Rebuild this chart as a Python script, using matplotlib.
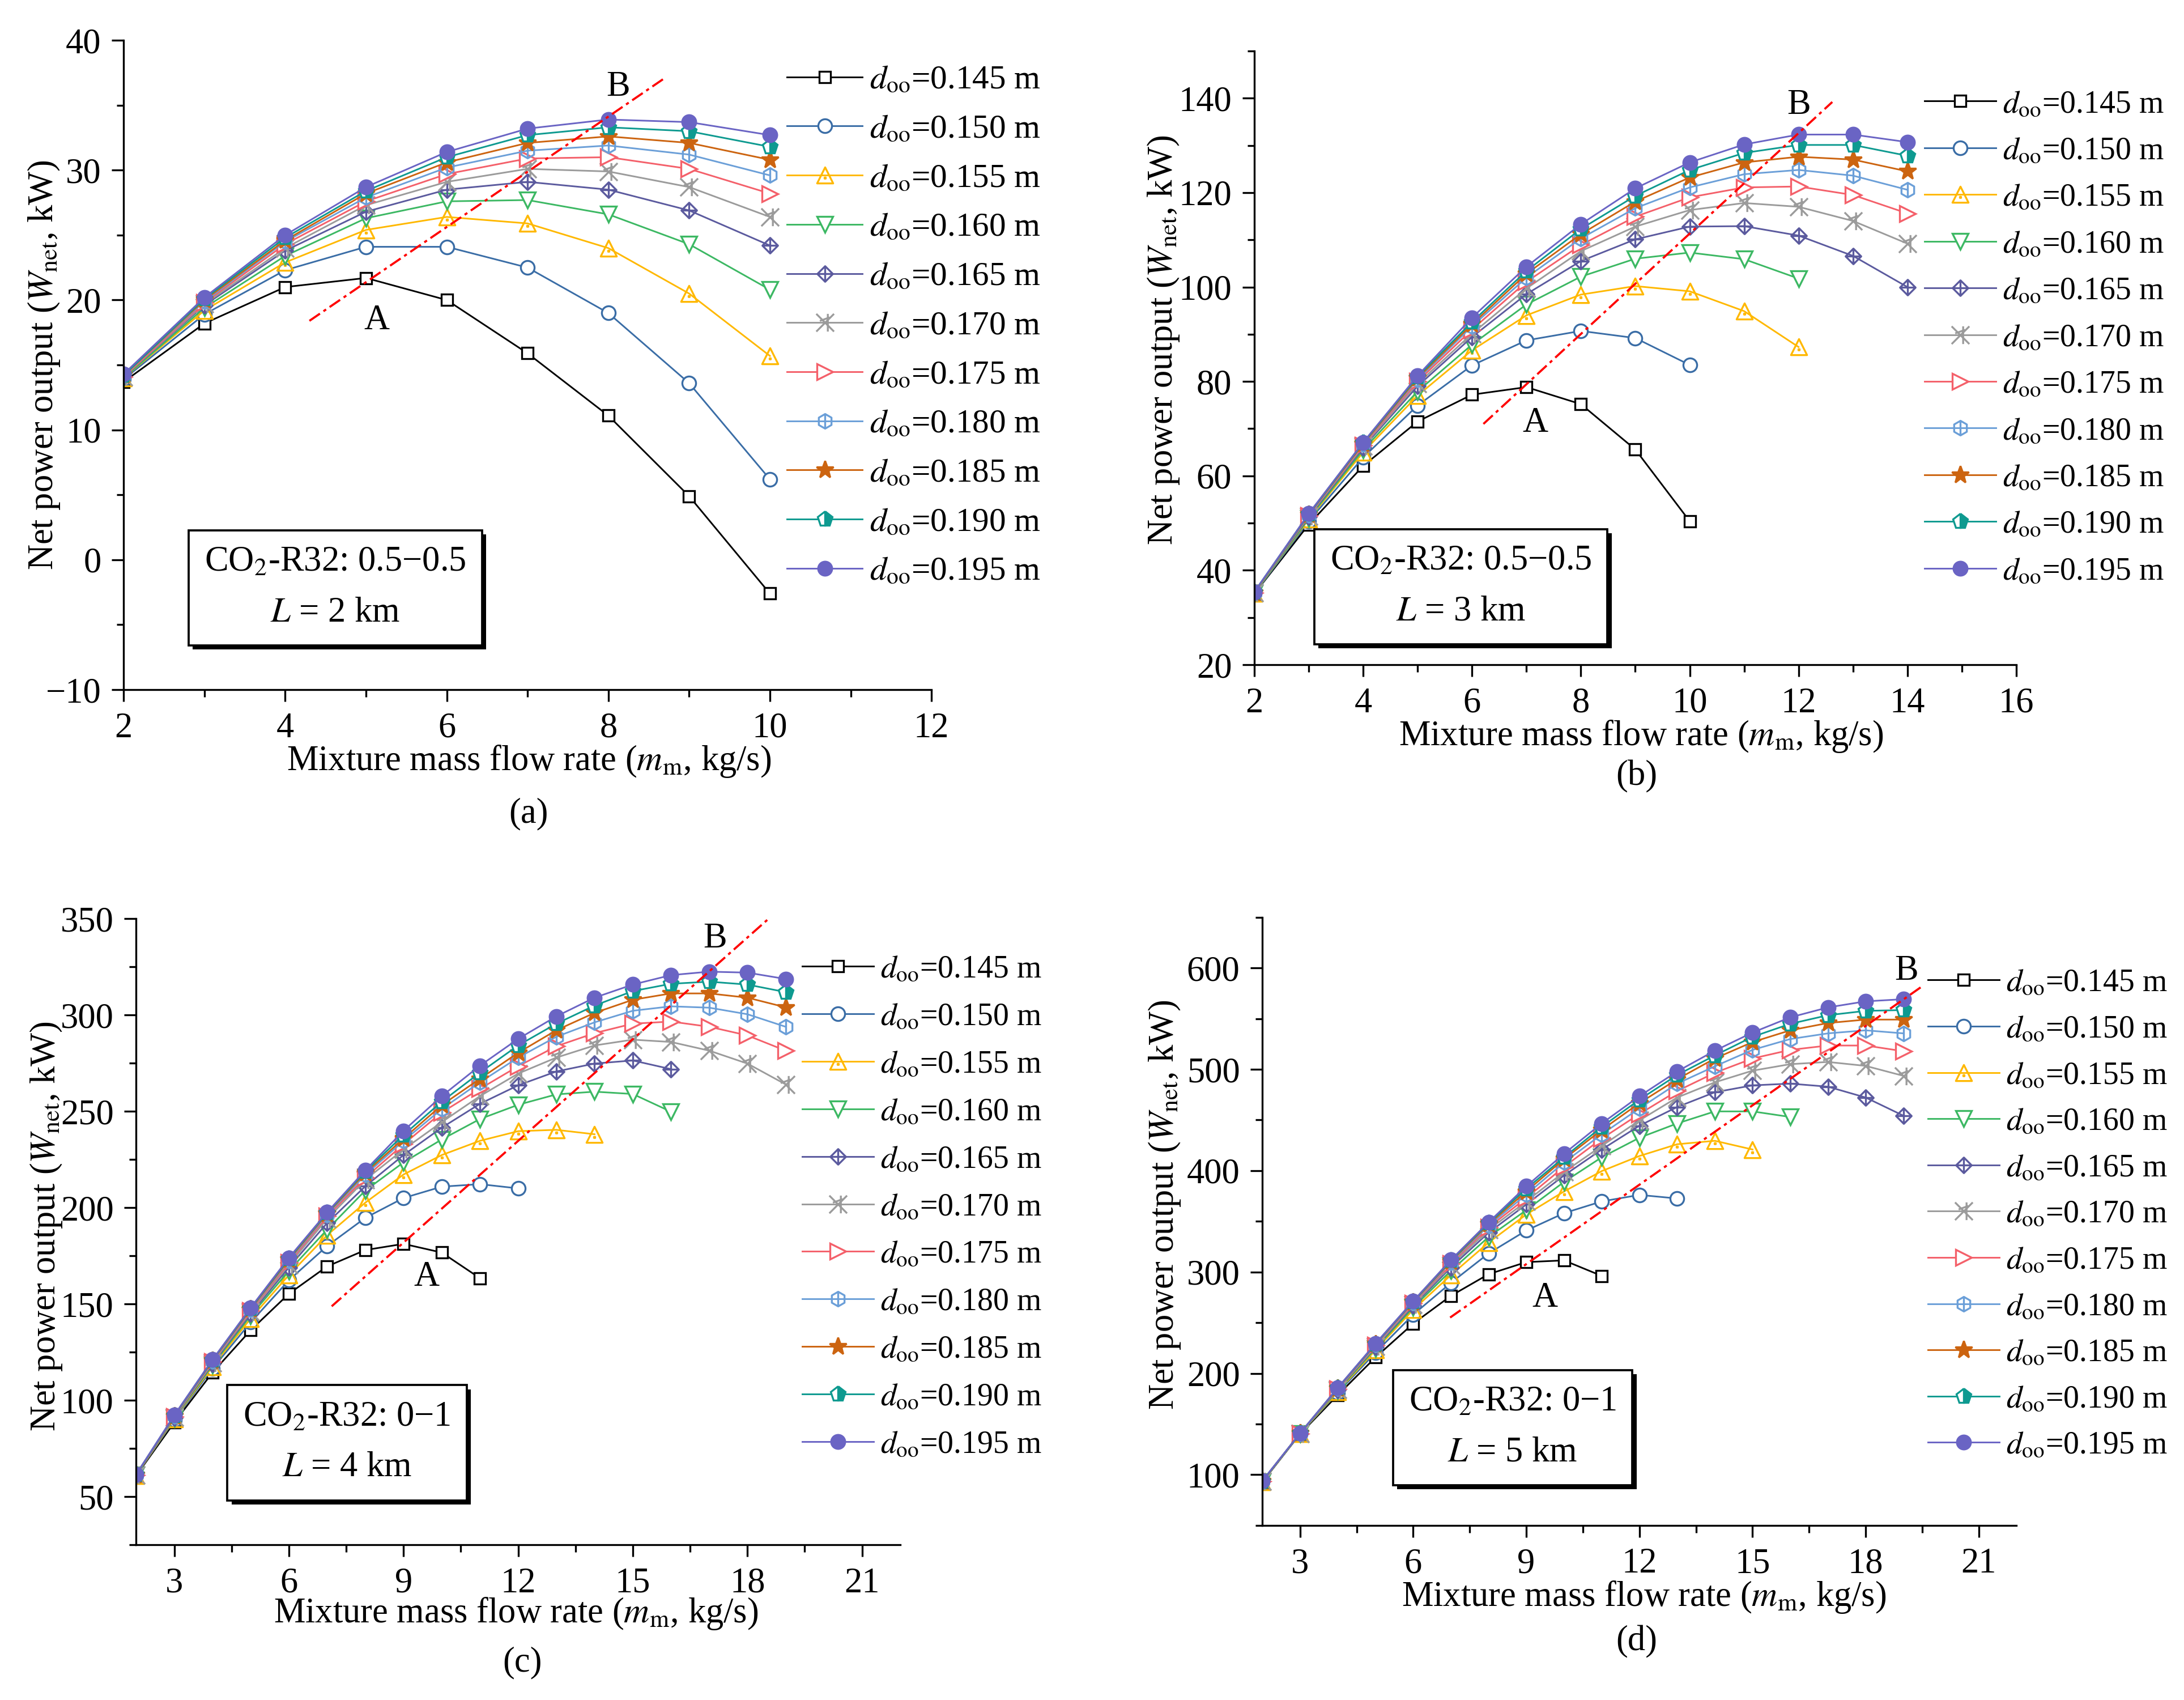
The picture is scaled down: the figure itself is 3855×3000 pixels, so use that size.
import matplotlib
matplotlib.use('Agg')
import matplotlib.pyplot as plt
import matplotlib.ticker as ticker
import matplotlib.patheffects as pe
from matplotlib.path import Path

# ---------------------------------------------------------------- data
diameters = ['0.145', '0.150', '0.155', '0.160', '0.165', '0.170',
             '0.175', '0.180', '0.185', '0.190', '0.195']

# every series starts at m_m = 2 kg/s, step 1 kg/s
flow_start = 2

# (a) CO2-R32 0.5-0.5, L = 2 km
power_a = [
    [13.7, 18.2, 21.0, 21.7, 20.0, 15.9, 11.1, 4.9, -2.6],
    [13.9, 18.9, 22.3, 24.1, 24.1, 22.5, 19.0, 13.6, 6.2],
    [14.0, 19.2, 22.9, 25.4, 26.4, 25.9, 24.0, 20.5, 15.7],
    [14.0, 19.4, 23.4, 26.3, 27.6, 27.7, 26.6, 24.3, 20.8],
    [14.1, 19.6, 23.8, 26.8, 28.5, 29.1, 28.5, 26.9, 24.2],
    [14.1, 19.7, 24.0, 27.3, 29.1, 30.1, 29.9, 28.7, 26.4],
    [14.1, 19.8, 24.3, 27.6, 29.7, 30.9, 31.0, 30.1, 28.2],
    [14.2, 19.9, 24.5, 27.9, 30.2, 31.5, 31.9, 31.2, 29.6],
    [14.2, 20.0, 24.6, 28.2, 30.6, 32.1, 32.6, 32.1, 30.8],
    [14.2, 20.1, 24.8, 28.4, 31.0, 32.7, 33.3, 33.0, 31.8],
    [14.3, 20.2, 25.0, 28.7, 31.4, 33.2, 33.9, 33.7, 32.7],
]

# (b) CO2-R32 0.5-0.5, L = 3 km
power_b = [
    [35.0, 49.7, 62.1, 71.5, 77.2, 78.8, 75.2, 65.6, 50.4],
    [35.0, 50.4, 63.9, 74.9, 83.4, 88.7, 90.7, 89.2, 83.5],
    [35.1, 50.8, 65.0, 77.0, 86.6, 94.0, 98.4, 100.2, 99.1, 94.9, 87.3],
    [35.1, 51.0, 65.5, 77.9, 87.8, 96.3, 102.2, 106.0, 107.3, 105.9, 101.8],
    [35.2, 51.3, 66.0, 79.0, 89.4, 98.5, 105.5, 110.1, 112.8, 112.9, 110.9, 106.6, 100.0],
    [35.2, 51.5, 66.3, 79.5, 90.1, 99.7, 107.6, 112.8, 116.3, 117.8, 117.0, 114.0, 109.2],
    [35.3, 51.6, 66.5, 80.0, 91.0, 101.1, 108.9, 114.9, 119.0, 121.1, 121.3, 119.5, 115.6],
    [35.3, 51.7, 66.7, 80.4, 91.7, 102.0, 110.3, 116.7, 121.1, 123.9, 124.8, 123.6, 120.6],
    [35.3, 51.8, 66.8, 80.7, 92.1, 102.8, 111.2, 118.1, 123.2, 126.4, 127.6, 127.0, 124.5],
    [35.4, 51.9, 67.0, 81.0, 92.6, 103.4, 112.3, 119.3, 124.8, 128.4, 130.1, 130.1, 127.8],
    [35.4, 52.0, 67.1, 81.2, 93.5, 104.3, 113.3, 120.9, 126.4, 130.2, 132.3, 132.3, 130.7],
]

# (c) CO2-R32 0-1, L = 4 km
power_c = [
    [60.8, 88.5, 114.4, 136.4, 155.3, 169.5, 178.0, 181.2, 176.7, 163.4],
    [61.0, 89.8, 116.5, 140.5, 162.3, 180.1, 194.7, 205.0, 210.9, 212.2, 210.0],
    [61.0, 90.3, 117.5, 142.5, 165.0, 185.7, 202.6, 217.2, 227.3, 234.7, 239.7, 240.4, 238.1],
    [61.1, 90.7, 118.3, 144.0, 167.2, 188.6, 208.9, 223.5, 235.4, 246.0, 253.4, 258.8, 260.2,
     259.0, 249.8],
    [61.1, 91.0, 119.0, 145.0, 169.0, 192.0, 211.1, 227.3, 241.5, 253.9, 263.5, 270.7, 274.8,
     276.4, 271.9],
    [61.2, 91.3, 119.5, 145.8, 170.3, 194.2, 214.5, 230.2, 244.4, 257.9, 269.6, 277.9, 284.2,
     287.2, 286.0, 281.5, 274.8, 264.0],
    [61.2, 91.5, 120.0, 146.4, 171.4, 195.5, 215.6, 232.9, 249.4, 261.7, 273.4, 283.8, 290.6,
     295.5, 296.6, 293.9, 289.4, 281.5],
    [61.3, 91.7, 120.3, 147.0, 172.3, 196.3, 217.0, 234.7, 251.2, 265.1, 277.9, 288.7, 296.2,
     302.2, 304.5, 303.8, 300.4, 293.9],
    [61.3, 91.9, 120.6, 147.4, 173.0, 196.9, 218.0, 235.9, 253.2, 266.9, 280.4, 292.1, 301.1,
     307.9, 311.2, 311.2, 309.0, 304.0],
    [61.4, 92.1, 120.9, 147.8, 173.6, 197.3, 218.8, 237.7, 255.0, 270.1, 284.2, 295.5, 304.9,
     312.4, 316.2, 317.3, 315.8, 311.9],
    [61.5, 92.3, 121.1, 148.1, 174.0, 197.6, 219.4, 239.9, 257.9, 273.7, 287.6, 299.3, 309.0,
     315.8, 320.7, 322.5, 322.0, 318.7],
]

# (d) CO2-R32 0-1, L = 5 km
power_d = [
    [92.7, 140.2, 178.6, 215.8, 249.1, 276.5, 297.9, 309.8, 311.5, 296.2],
    [93.0, 140.4, 181.0, 220.5, 258.0, 289.3, 318.4, 341.0, 358.1, 369.7, 376.1, 372.6],
    [93.1, 140.5, 182.0, 223.0, 262.8, 297.0, 329.1, 356.8, 379.5, 399.6, 414.5, 426.1, 429.5,
     420.9],
    [93.2, 140.6, 183.0, 224.5, 265.0, 301.3, 334.6, 361.1, 388.9, 413.2, 432.5, 446.6, 458.5,
     458.5, 453.0],
    [93.3, 140.7, 183.8, 225.8, 266.8, 304.5, 338.9, 366.7, 395.3, 420.9, 444.4, 462.8, 477.4,
     484.2, 485.9, 482.9, 472.2, 454.3],
    [93.4, 140.7, 184.3, 226.7, 268.0, 306.5, 341.7, 369.7, 398.7, 424.4, 449.6, 472.2, 487.2,
     498.7, 505.1, 507.3, 503.4, 493.6],
    [93.5, 140.8, 184.8, 227.5, 269.0, 308.3, 344.0, 373.1, 403.8, 431.6, 456.0, 478.6, 496.6,
     510.7, 519.2, 523.5, 523.5, 517.9],
    [93.6, 140.8, 185.1, 228.1, 269.9, 309.6, 345.8, 376.5, 408.1, 435.9, 461.5, 485.9, 503.0,
     519.2, 529.9, 535.5, 538.5, 535.5],
    [93.7, 140.9, 185.4, 228.7, 270.5, 310.6, 347.2, 379.5, 411.5, 440.2, 466.7, 490.2, 510.7,
     526.9, 538.5, 545.7, 549.1, 549.1],
    [93.8, 140.9, 185.7, 229.1, 271.0, 311.4, 348.3, 382.2, 413.2, 443.2, 470.1, 494.4, 513.7,
     532.1, 544.9, 553.4, 557.7, 558.5],
    [94.0, 141.0, 185.9, 229.5, 271.4, 312.0, 349.1, 384.6, 416.7, 446.6, 473.5, 497.9, 518.4,
     536.3, 551.3, 561.1, 567.1, 569.2],
]

# A-B trend lines (x pair, y pair) and label positions
trend_a = ([4.30, 8.70], [18.4, 37.1])
trend_b = ([6.21, 12.62], [71.0, 139.2])
trend_c = ([7.12, 18.63], [148.8, 351.3])
trend_d = ([6.98, 19.47], [255.1, 581.2])
label_a = [(5.13, 18.4), (8.12, 36.4)]
label_b = [(7.16, 71.1), (12.0, 138.5)]
label_c = [(9.6, 163.9), (17.15, 339.4)]
label_d = [(9.49, 274.4), (19.08, 597.0)]

mixtures = ['0.5\u22120.5', '0.5\u22120.5', '0\u22121', '0\u22121']
lengths = ['2', '3', '4', '5']

# ---------------------------------------------------------------- style
plt.rcParams.update({
    'font.family': 'serif',
    'font.serif': ['Liberation Serif', 'DejaVu Serif'],
    'mathtext.fontset': 'stix',
    'font.size': 15,
    'axes.linewidth': 0.8,
    'xtick.direction': 'out',
    'ytick.direction': 'out',
    'xtick.major.size': 5,
    'ytick.major.size': 5,
    'xtick.minor.size': 3,
    'ytick.minor.size': 3,
    'xtick.major.width': 0.8,
    'ytick.major.width': 0.8,
    'xtick.minor.width': 0.8,
    'ytick.minor.width': 0.8,
    'xtick.major.pad': 4.5,
    'ytick.major.pad': 4.5,
})


def _marker(segments, closed):
    verts, codes = [], []
    for seg, cl in zip(segments, closed):
        verts.extend(seg)
        codes.extend([Path.MOVETO] + [Path.LINETO] * (len(seg) - 1))
        if cl:
            verts.append(seg[0])
            codes.append(Path.CLOSEPOLY)
    return Path(verts, codes)


tri_dot = _marker([[(0, 1), (-1, -1), (1, -1)],
                   [(-0.07, -0.4), (0.07, -0.4), (0.07, -0.27), (-0.07, -0.27)]],
                  [True, True])
diamond_plus = _marker([[(0, 1), (1, 0), (0, -1), (-1, 0)],
                        [(0, 1), (0, -1)], [(-1, 0), (1, 0)]],
                       [True, False, False])
cross_bar = _marker([[(-1, -1), (1, 1)], [(-1, 1), (1, -1)],
                     [(0.3, -1), (0.3, 1)], [(-0.6, 0.2), (0.5, 0.6)]],
                    [False, False, False, False])
hexa = [(0.866 * (1 if i in (1, 2) else -1 if i in (4, 5) else 0),
         [1, 0.5, -0.5, -1, -0.5, 0.5][i]) for i in range(6)]
hex_bar = _marker([hexa, [(0, 1), (0, -1)]], [True, False])

colors = ['#000000', '#3A6DA6', '#FFB800', '#3CB863', '#5B5A9E', '#9B9B9B',
          '#F4606A', '#6B9FD8', '#CC6410', '#0E9A90', '#6A64C4']
markers = [
    dict(marker='s', ms=5.0, mfc='white'),
    dict(marker='o', ms=5.8, mfc='white'),
    dict(marker=tri_dot, ms=6.8, mfc='none'),
    dict(marker='v', ms=6.8, mfc='white'),
    dict(marker=diamond_plus, ms=6.6, mfc='none'),
    dict(marker=cross_bar, ms=7.5, mfc='none'),
    dict(marker='>', ms=6.8, mfc='white'),
    dict(marker=hex_bar, ms=6.2, mfc='none'),
    dict(marker='*', ms=7.5),
    dict(marker='p', ms=6.8, fillstyle='right', markerfacecoloralt='white'),
    dict(marker='o', ms=5.9),
]

panels = [
    dict(data=power_a, trend=trend_a, labels=label_a, xlim=(2, 12), ylim=(-10, 40),
         xmaj=2, xmin=1, ymaj=10, ymin=5,
         rect=[0.0566, 0.5943, 0.3699, 0.3820], tag='(a)', tag_xy=(933, 1436),
         leg=(1389, 115), leg_fs=14.2, leg_sp=0.546, box=(0.262, 0.157),
         xlab=(0.502, -0.110), ylab=(-0.099, 0.5)),
    dict(data=power_b, trend=trend_b, labels=label_b, xlim=(2, 16), ylim=(20, 150),
         xmaj=2, xmin=1, ymaj=20, ymin=10,
         rect=[0.5743, 0.6090, 0.3489, 0.3610], tag='(b)', tag_xy=(2889, 1370),
         leg=(3397, 158), leg_fs=13.4, leg_sp=0.545, box=(0.271, 0.127),
         xlab=(0.508, -0.117), ylab=(-0.119, 0.529)),
    dict(data=power_c, trend=trend_c, labels=label_c, xlim=(2, 22), ylim=(25, 350),
         xmaj=3, xmin=1.5, ymaj=50, ymin=25,
         rect=[0.0623, 0.0913, 0.3499, 0.3683], tag='(c)', tag_xy=(922, 2934),
         leg=(1416, 1685), leg_fs=13.4, leg_sp=0.57, box=(0.276, 0.163),
         xlab=(0.497, -0.110), ylab=(-0.118, 0.509)),
    dict(data=power_d, trend=trend_d, labels=label_d, xlim=(2, 22), ylim=(50, 650),
         xmaj=3, xmin=1.5, ymaj=100, ymin=50,
         rect=[0.5780, 0.1027, 0.3453, 0.3577], tag='(d)', tag_xy=(2889, 2897),
         leg=(3403, 1709), leg_fs=13.4, leg_sp=0.53, box=(0.332, 0.161),
         xlab=(0.506, -0.118), ylab=(-0.130, 0.527)),
]

W, H = 3855, 3000
fig = plt.figure(figsize=(W / 300, H / 300), dpi=300)

for k, p in enumerate(panels):
    ax = fig.add_axes(p['rect'])
    for i, series in enumerate(p['data']):
        xs = [flow_start + j for j in range(len(series))]
        ax.plot(xs, series, color=colors[i], lw=0.7, mec=colors[i], mew=0.8,
                label=r'$d_{\mathrm{oo}}$=' + diameters[i] + ' m', **markers[i])

    tx, ty = p['trend']
    ax.plot(tx, ty, color='red', lw=0.9, dashes=(6, 2, 1.5, 2))
    for name, (lx, ly) in zip('AB', p['labels']):
        ax.text(lx, ly, name, ha='center', va='center', fontsize=15, clip_on=False)

    ax.set_xlim(*p['xlim'])
    ax.set_ylim(*p['ylim'])
    ax.xaxis.set_major_locator(ticker.MultipleLocator(p['xmaj']))
    ax.xaxis.set_minor_locator(ticker.MultipleLocator(p['xmin']))
    ax.yaxis.set_major_locator(ticker.MultipleLocator(p['ymaj']))
    ax.yaxis.set_minor_locator(ticker.MultipleLocator(p['ymin']))
    ax.spines['top'].set_visible(False)
    ax.spines['right'].set_visible(False)
    ax.tick_params(labelsize=15)

    ax.set_xlabel(r'Mixture mass flow rate ($m_{\mathrm{m}}$, kg/s)', fontsize=15)
    ax.set_ylabel(r'Net power output ($W_{\mathrm{net}}$, kW)', fontsize=15)
    ax.xaxis.label.set_va('center')
    ax.yaxis.label.set_va('center')
    ax.xaxis.set_label_coords(*p['xlab'])
    ax.yaxis.set_label_coords(*p['ylab'])

    note = ax.text(p['box'][0], p['box'][1],
                   'CO$_2$-R32: ' + mixtures[k] + '\n$L$ = ' + lengths[k] + ' km',
                   transform=ax.transAxes, ha='center', va='center', fontsize=15,
                   linespacing=1.7,
                   bbox=dict(boxstyle='square,pad=0.45', fc='white', ec='black', lw=0.9))
    note.get_bbox_patch().set_path_effects([
        pe.SimplePatchShadow(offset=(1.8, -1.8), shadow_rgbFace='black', alpha=1.0),
        pe.Normal()])

    lx, ly = p['leg']
    ax.legend(loc='upper left', bbox_to_anchor=(lx / W, 1 - ly / H),
              bbox_transform=fig.transFigure, frameon=False, fontsize=p['leg_fs'],
              borderpad=0, borderaxespad=0, handlelength=2.25, handletextpad=0.22,
              labelspacing=p['leg_sp'], numpoints=1)

    tx_, ty_ = p['tag_xy']
    fig.text(tx_ / W, 1 - ty_ / H, p['tag'], ha='center', va='center', fontsize=15)

fig.savefig('out.png', dpi=300)
